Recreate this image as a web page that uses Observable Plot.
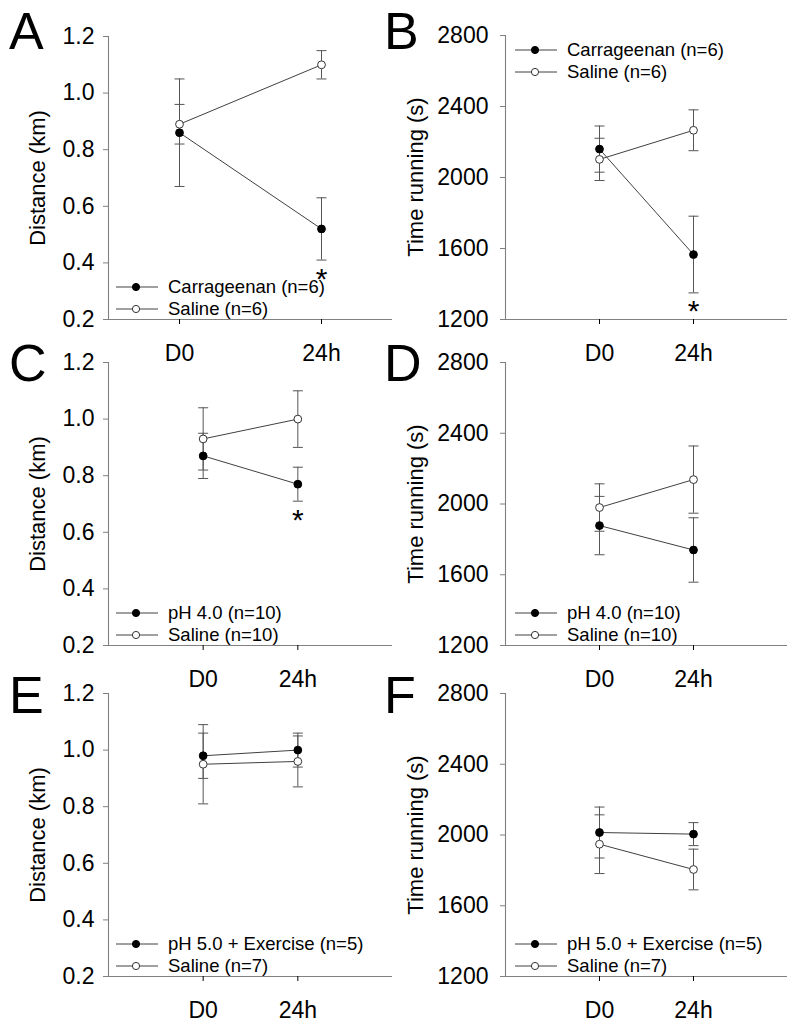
<!DOCTYPE html>
<html>
<head>
<meta charset="utf-8">
<script src="https://cdn.jsdelivr.net/npm/d3@7"></script>
<script src="https://cdn.jsdelivr.net/npm/@observablehq/plot@0.6"></script>
<style>
  html, body { margin: 0; padding: 0; background: #fff; }
  body { font-family: "Liberation Sans", Arial, sans-serif; color: #000; }
  #root { position: relative; width: 800px; height: 1025px; overflow: hidden; background: #fff; }
  .panel { position: absolute; }
  .letter { position: absolute; font-size: 52px; line-height: 52px; }
  .ylabel { position: absolute; font-size: 22px; white-space: nowrap; transform: translate(-50%, -50%) rotate(-90deg); }
  .legend { position: absolute; font-size: 18.5px; }
  .legend .row { display: flex; align-items: center; height: 22px; line-height: 22px; white-space: nowrap; }
  .legend svg { display: block; margin-right: 10px; }
</style>
</head>
<body>
<div id="root"></div>
<script>
// ---------- data ----------
const timepoints = ["D0", "24h"];
const distanceTicks = [0.2, 0.4, 0.6, 0.8, 1.0, 1.2];
const timeTicks = [1200, 1600, 2000, 2400, 2800];
const distanceLabel = "Distance (km)";
const timeLabel = "Time running (s)";

// Panel A – distance, carrageenan vs saline
const aGroups = ["Carrageenan (n=6)", "Saline (n=6)"];
const aCarrageenanMean = [0.86, 0.52];
const aCarrageenanErr = [0.19, 0.11];
const aSalineMean = [0.89, 1.10];
const aSalineErr = [0.07, 0.05];
const aSignificant = [false, true];

// Panel B – time running, carrageenan vs saline
const bGroups = ["Carrageenan (n=6)", "Saline (n=6)"];
const bCarrageenanMean = [2160, 1566];
const bCarrageenanErr = [130, 216];
const bSalineMean = [2102, 2266];
const bSalineErr = [119, 115];
const bSignificant = [false, true];

// Panel C – distance, pH 4.0 vs saline
const cGroups = ["pH 4.0 (n=10)", "Saline (n=10)"];
const cPh4Mean = [0.87, 0.77];
const cPh4Err = [0.08, 0.06];
const cSalineMean = [0.93, 1.00];
const cSalineErr = [0.11, 0.10];
const cSignificant = [false, true];

// Panel D – time running, pH 4.0 vs saline
const dGroups = ["pH 4.0 (n=10)", "Saline (n=10)"];
const dPh4Mean = [1878, 1740];
const dPh4Err = [165, 182];
const dSalineMean = [1980, 2138];
const dSalineErr = [134, 190];
const dSignificant = [false, false];

// Panel E – distance, pH 5.0 + exercise vs saline
const eGroups = ["pH 5.0 + Exercise (n=5)", "Saline (n=7)"];
const ePh5Mean = [0.98, 1.00];
const ePh5Err = [0.08, 0.06];
const eSalineMean = [0.95, 0.96];
const eSalineErr = [0.14, 0.09];
const eSignificant = [false, false];

// Panel F – time running, pH 5.0 + exercise vs saline
const fGroups = ["pH 5.0 + Exercise (n=5)", "Saline (n=7)"];
const fPh5Mean = [2014, 2005];
const fPh5Err = [144, 65];
const fSalineMean = [1948, 1805];
const fSalineErr = [166, 115];
const fSignificant = [false, false];

// ---------- styling ----------
const AXIS = "#808080";
const LINE = "#404040";
const ERR = "#555555";

const capSymbol = {
  draw(context, size) {
    const w = Math.sqrt(size / Math.PI);
    context.moveTo(-w, 0);
    context.lineTo(w, 0);
  }
};

function rows(mean, err) {
  return timepoints.map((t, i) => ({x: i, mean: mean[i], lo: mean[i] - err[i], hi: mean[i] + err[i]}));
}

const panels = [
  {letter: "A", left: 0, frameTop: 36, frameBottom: 319, side: "left", xDomain: [-0.5, 1.5],
   yDomain: [0.2, 1.2], ticks: distanceTicks, fmt: d3.format(".1f"), label: distanceLabel,
   filled: rows(aCarrageenanMean, aCarrageenanErr), open: rows(aSalineMean, aSalineErr),
   sig: aSignificant, groups: aGroups, legend: "bottom", letterPos: [9, 5]},
  {letter: "B", left: 400, frameTop: 35, frameBottom: 319, side: "right", xDomain: [-1, 2],
   yDomain: [1200, 2800], ticks: timeTicks, fmt: d3.format("d"), label: timeLabel,
   filled: rows(bCarrageenanMean, bCarrageenanErr), open: rows(bSalineMean, bSalineErr),
   sig: bSignificant, groups: bGroups, legend: "top", letterPos: [384, 5]},
  {letter: "C", left: 0, frameTop: 362, frameBottom: 645, side: "left", xDomain: [-1, 2],
   yDomain: [0.2, 1.2], ticks: distanceTicks, fmt: d3.format(".1f"), label: distanceLabel,
   filled: rows(cPh4Mean, cPh4Err), open: rows(cSalineMean, cSalineErr),
   sig: cSignificant, groups: cGroups, legend: "bottom", letterPos: [9, 337]},
  {letter: "D", left: 400, frameTop: 362, frameBottom: 645, side: "right", xDomain: [-1, 2],
   yDomain: [1200, 2800], ticks: timeTicks, fmt: d3.format("d"), label: timeLabel,
   filled: rows(dPh4Mean, dPh4Err), open: rows(dSalineMean, dSalineErr),
   sig: dSignificant, groups: dGroups, legend: "bottom", letterPos: [384, 337]},
  {letter: "E", left: 0, frameTop: 693, frameBottom: 976, side: "left", xDomain: [-1, 2],
   yDomain: [0.2, 1.2], ticks: distanceTicks, fmt: d3.format(".1f"), label: distanceLabel,
   filled: rows(ePh5Mean, ePh5Err), open: rows(eSalineMean, eSalineErr),
   sig: eSignificant, groups: eGroups, legend: "bottom", letterPos: [9, 669]},
  {letter: "F", left: 400, frameTop: 693, frameBottom: 976, side: "right", xDomain: [-1, 2],
   yDomain: [1200, 2800], ticks: timeTicks, fmt: d3.format("d"), label: timeLabel,
   filled: rows(fPh5Mean, fPh5Err), open: rows(fSalineMean, fSalineErr),
   sig: fSignificant, groups: fGroups, legend: "bottom", letterPos: [384, 669]}
];

const root = document.getElementById("root");

function legendSymbol(filled) {
  const ns = "http://www.w3.org/2000/svg";
  const svg = document.createElementNS(ns, "svg");
  svg.setAttribute("width", 42);
  svg.setAttribute("height", 10);
  const line = document.createElementNS(ns, "line");
  line.setAttribute("x1", 0); line.setAttribute("x2", 42);
  line.setAttribute("y1", 5); line.setAttribute("y2", 5);
  line.setAttribute("stroke", LINE); line.setAttribute("stroke-width", 1);
  svg.appendChild(line);
  const c = document.createElementNS(ns, "circle");
  c.setAttribute("cx", 20); c.setAttribute("cy", 5); c.setAttribute("r", 3.6);
  c.setAttribute("fill", filled ? "#000" : "#fff");
  c.setAttribute("stroke", filled ? "#000" : "#333");
  svg.appendChild(c);
  return svg;
}

for (const p of panels) {
  const mTop = 20, mBottom = 52;
  const marginLeft = p.side === "left" ? 108 : 105;
  const marginRight = p.side === "left" ? 8 : 13;
  const height = (p.frameBottom - p.frameTop) + mTop + mBottom;
  const starRows = p.filled.filter((d, i) => p.sig[i]);

  const chart = Plot.plot({
    width: 400,
    height,
    marginTop: mTop,
    marginBottom: mBottom,
    marginLeft,
    marginRight,
    style: {background: "transparent", overflow: "visible", fontFamily: "Liberation Sans, Arial, sans-serif", color: "#000"},
    x: {type: "linear", domain: p.xDomain},
    y: {type: "linear", domain: p.yDomain},
    marks: [
      Plot.ruleX([p.xDomain[0]], {stroke: AXIS, strokeWidth: 1.1}),
      Plot.ruleY([p.yDomain[0]], {stroke: AXIS, strokeWidth: 1.1}),
      Plot.axisY({ticks: p.ticks, tickFormat: p.fmt, tickSize: 5, tickPadding: p.side === "left" ? 9 : 12,
                  fontSize: 23, stroke: AXIS, label: null}),
      Plot.axisX({ticks: [0, 1], tickFormat: i => timepoints[i], tickSize: 5, tickPadding: 20,
                  fontSize: 23, label: null}),
      // error bars
      Plot.ruleX(p.filled, {x: "x", y1: "lo", y2: "hi", stroke: ERR, strokeWidth: 1}),
      Plot.ruleX(p.open, {x: "x", y1: "lo", y2: "hi", stroke: ERR, strokeWidth: 1}),
      Plot.dot(p.filled, {x: "x", y: "lo", symbol: capSymbol, r: 5, stroke: ERR, fill: "none", strokeWidth: 1}),
      Plot.dot(p.filled, {x: "x", y: "hi", symbol: capSymbol, r: 5, stroke: ERR, fill: "none", strokeWidth: 1}),
      Plot.dot(p.open, {x: "x", y: "lo", symbol: capSymbol, r: 5, stroke: ERR, fill: "none", strokeWidth: 1}),
      Plot.dot(p.open, {x: "x", y: "hi", symbol: capSymbol, r: 5, stroke: ERR, fill: "none", strokeWidth: 1}),
      // lines
      Plot.line(p.filled, {x: "x", y: "mean", stroke: LINE, strokeWidth: 1}),
      Plot.line(p.open, {x: "x", y: "mean", stroke: LINE, strokeWidth: 1}),
      // markers
      Plot.dot(p.filled, {x: "x", y: "mean", r: 3.9, fill: "#000", stroke: "#000", strokeWidth: 1}),
      Plot.dot(p.open, {x: "x", y: "mean", r: 3.9, fill: "#fff", stroke: "#333", strokeWidth: 1}),
      // significance
      Plot.text(starRows, {x: "x", y: "lo", text: () => "*", fontSize: 30, dy: 19, fill: "#000"})
    ]
  });
  chart.classList.add("panel");
  chart.style.left = p.left + "px";
  chart.style.top = (p.frameTop - mTop) + "px";
  root.appendChild(chart);

  // panel letter
  const L = document.createElement("div");
  L.className = "letter";
  L.textContent = p.letter;
  L.style.left = p.letterPos[0] + "px";
  L.style.top = p.letterPos[1] + "px";
  root.appendChild(L);

  // y label
  const Y = document.createElement("div");
  Y.className = "ylabel";
  Y.textContent = p.label;
  Y.style.left = (p.left + (p.side === "left" ? 38 : 16)) + "px";
  Y.style.top = ((p.frameTop + p.frameBottom) / 2) + "px";
  root.appendChild(Y);

  // legend
  const G = document.createElement("div");
  G.className = "legend";
  G.style.left = (p.left + (p.side === "left" ? 116 : 115)) + "px";
  G.style.top = (p.legend === "top" ? p.frameTop + 4 : p.frameBottom - 43) + "px";
  p.groups.forEach((name, i) => {
    const r = document.createElement("div");
    r.className = "row";
    r.appendChild(legendSymbol(i === 0));
    const s = document.createElement("span");
    s.textContent = name;
    r.appendChild(s);
    G.appendChild(r);
  });
  root.appendChild(G);
}
</script>
</body>
</html>
